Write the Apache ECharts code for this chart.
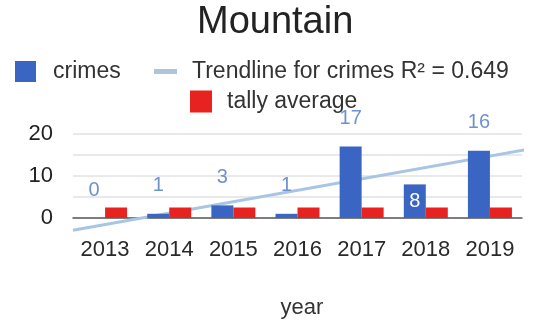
<!DOCTYPE html>
<html>
<head>
<meta charset="utf-8">
<script src="https://cdn.jsdelivr.net/npm/echarts@6/dist/echarts.min.js"></script>
<style>
  html, body { margin: 0; padding: 0; background: #ffffff; }
  #chart { width: 534px; height: 323px; }
</style>
</head>
<body>
<div id="chart"></div>
<script>
// Yearly crime counts for Mountain, with the tally average and a linear trendline
const years = ['2013', '2014', '2015', '2016', '2017', '2018', '2019'];
const crimes = [0, 1, 3, 1, 17, 8, 16];
const tallyAverage = [2.5, 2.5, 2.5, 2.5, 2.5, 2.5, 2.5];
// trendline endpoints: [category position, crimes]
const trendline = [[-0.5, -2.9], [6.68, 16.6]];
const yLabelValues = [0, 10, 20];
const trendName = 'Trendline for crimes R\u00B2 = 0.649';

const FONT = "'Liberation Sans', Arial, sans-serif";
const BLUE = '#3a65c2';
const RED = '#e8231f';
const TREND = '#a8c6e4';

const chart = echarts.init(document.getElementById('chart'), null, { renderer: 'canvas' });

const crimesData = crimes.map(function (v, i) {
  const item = { value: v };
  if (years[i] === '2018') {
    item.label = { position: 'inside', color: '#ffffff', distance: 0 };
  }
  return item;
});

chart.setOption({
  animation: false,
  backgroundColor: '#ffffff',
  title: {
    text: 'Mountain',
    left: 197,
    top: 4,
    padding: 0,
    textStyle: { fontFamily: FONT, fontSize: 38, fontWeight: 'normal', color: '#222222' }
  },
  legend: [
    {
      data: [{ name: 'crimes', icon: 'rect' }],
      left: 15, top: 60, padding: 0,
      itemWidth: 21, itemHeight: 21,
      textStyle: { fontFamily: FONT, fontSize: 23, color: '#333333', padding: [0, 0, 0, 12] }
    },
    {
      data: [{ name: trendName, icon: 'rect', itemStyle: { color: '#adc4dc' } }],
      left: 154, top: 60, padding: 0,
      itemWidth: 23, itemHeight: 5,
      textStyle: { fontFamily: FONT, fontSize: 23, color: '#333333', padding: [0, 0, 0, 10] }
    },
    {
      data: [{ name: 'tally average', icon: 'rect' }],
      left: 190, top: 90, padding: 0,
      itemWidth: 22, itemHeight: 22,
      textStyle: { fontFamily: FONT, fontSize: 23, color: '#333333', padding: [0, 0, 0, 10] }
    }
  ],
  grid: { left: 73, right: 12, top: 134, bottom: 105 },
  xAxis: [
    {
      type: 'category',
      data: years,
      axisLine: { lineStyle: { color: '#5a5a5a', width: 1.5 } },
      axisTick: { show: false },
      axisLabel: { fontFamily: FONT, fontSize: 22, color: '#2a2a2a', margin: 21 },
      name: 'year',
      nameLocation: 'middle',
      nameGap: 79,
      nameTextStyle: { fontFamily: FONT, fontSize: 22, color: '#333333', padding: [0, 0, 0, 9] }
    },
    {
      type: 'value',
      min: -0.5,
      max: 6.5,
      show: false
    }
  ],
  yAxis: {
    type: 'value',
    min: 0,
    max: 20,
    interval: 5,
    axisLine: { show: false },
    axisTick: { show: false },
    axisLabel: {
      fontFamily: FONT, fontSize: 22, color: '#222222', margin: 20,
      formatter: function (v) { return yLabelValues.indexOf(v) >= 0 ? String(v) : ''; }
    },
    splitLine: { lineStyle: { color: '#e2e2e2', width: 1.5 } }
  },
  series: [
    {
      name: trendName,
      type: 'line',
      xAxisIndex: 1,
      data: trendline,
      symbol: 'none',
      clip: false,
      z: 1,
      lineStyle: { color: TREND, width: 3 },
      itemStyle: { color: TREND }
    },
    {
      name: 'crimes',
      type: 'bar',
      data: crimesData,
      barWidth: 22,
      barGap: '0%',
      z: 3,
      itemStyle: { color: BLUE },
      label: {
        show: true,
        position: 'top',
        distance: 18,
        fontFamily: FONT,
        fontSize: 20,
        color: '#6f92cf'
      }
    },
    {
      name: 'tally average',
      type: 'bar',
      data: tallyAverage,
      barWidth: 22,
      z: 3,
      itemStyle: { color: RED }
    }
  ]
});
</script>
</body>
</html>
